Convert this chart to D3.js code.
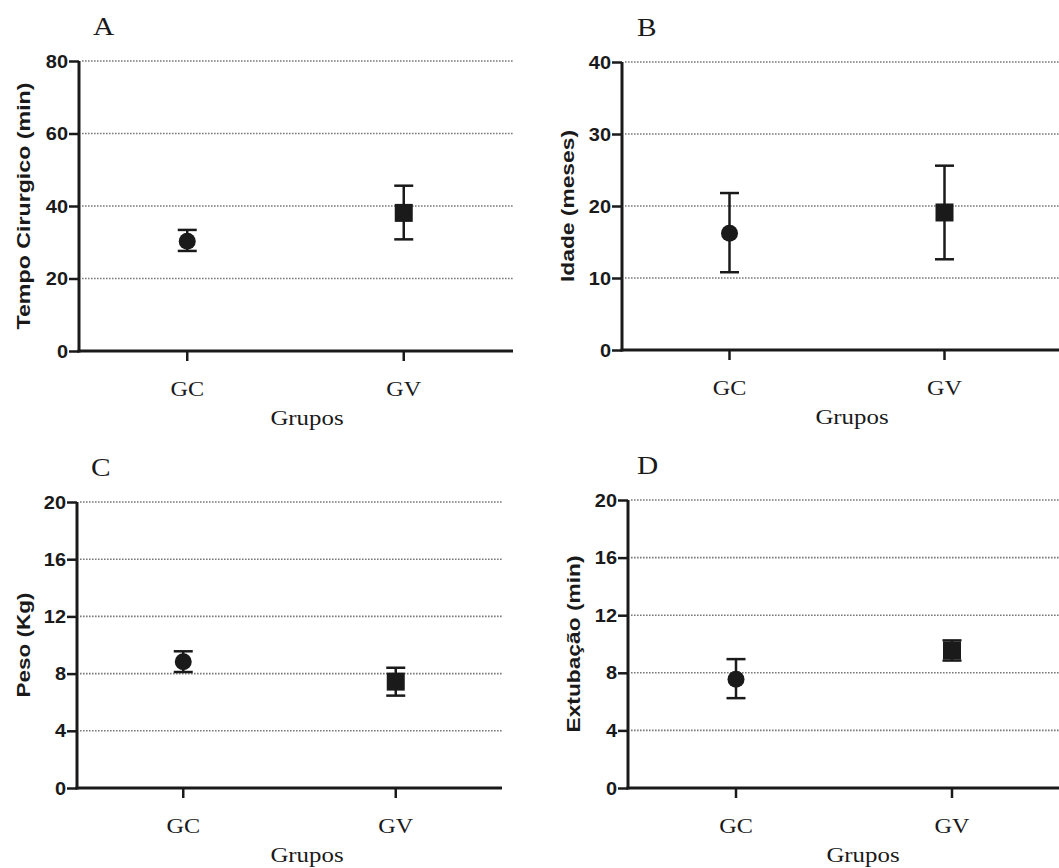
<!DOCTYPE html>
<html>
<head>
<meta charset="utf-8">
<script src="https://cdn.jsdelivr.net/npm/d3@7"></script>
<style>
  body { margin: 0; background: #fff; }
  .tick text { font-family: "Liberation Sans", Arial, sans-serif; font-weight: bold; }
</style>
</head>
<body>
<div id="chart"></div>
<script>
// Data (mean with lower / upper error bar ends)
const groups = ["GC", "GV"];

const tempoMean = [30.3, 38.1];
const tempoLow = [27.6, 30.8];
const tempoHigh = [33.4, 45.6];
const tempoTicks = [0, 20, 40, 60, 80];

const idadeMean = [16.2, 19.1];
const idadeLow = [10.8, 12.6];
const idadeHigh = [21.8, 25.6];
const idadeTicks = [0, 10, 20, 30, 40];

const pesoMean = [8.83, 7.44];
const pesoLow = [8.11, 6.46];
const pesoHigh = [9.56, 8.41];
const pesoTicks = [0, 4, 8, 12, 16, 20];

const extubMean = [7.56, 9.55];
const extubLow = [6.24, 8.85];
const extubHigh = [8.95, 10.25];
const extubTicks = [0, 4, 8, 12, 16, 20];

const width = 1059, height = 868;
const ink = "#1a1a1a";
const serif = "'Liberation Serif', 'Times New Roman', serif";

const svg = d3.select("#chart")
    .append("svg")
    .attr("width", width)
    .attr("height", height);

// the figure's text is a bit wider than the installed fonts, so stretch it
function widen(sel, k) {
    sel.each(function () {
        const w = this.getComputedTextLength();
        d3.select(this).attr("textLength", w * k).attr("lengthAdjust", "spacingAndGlyphs");
    });
}

// Draw one panel
function drawPanel(p) {
    const g = svg.append("g");

    const y = d3.scaleLinear()
        .domain([0, p.ticks[p.ticks.length - 1]])
        .range([p.bottom, p.top]);

    const x = d3.scalePoint()
        .domain(groups)
        .range([p.left, p.right])
        .padding(0.5);

    // dotted gridlines
    g.selectAll("line.grid")
        .data(p.ticks.filter(t => t > 0))
        .join("line")
        .attr("class", "grid")
        .attr("x1", p.left + 3)
        .attr("x2", p.lineEnd)
        .attr("y1", d => y(d))
        .attr("y2", d => y(d))
        .attr("stroke", "#7a7a7a")
        .attr("stroke-width", 1.6)
        .attr("stroke-dasharray", "1.6,1.4");

    // y axis
    const yAxis = g.append("g")
        .attr("transform", `translate(${p.left},0)`)
        .call(d3.axisLeft(y).tickValues(p.ticks).tickSize(10).tickPadding(1).tickFormat(d3.format("d")));
    yAxis.select(".domain").attr("stroke", ink).attr("stroke-width", 3)
        .attr("d", `M0,${p.bottom + 1.5}V${p.top}`);
    yAxis.selectAll(".tick line").attr("stroke", ink).attr("stroke-width", 2.5);
    yAxis.selectAll(".tick text").attr("font-size", 19).attr("fill", ink)
        .attr("text-anchor", "end").call(widen, 1.05);

    // x baseline and ticks
    g.append("line")
        .attr("x1", p.left - 1.5).attr("x2", p.lineEnd)
        .attr("y1", p.bottom).attr("y2", p.bottom)
        .attr("stroke", ink).attr("stroke-width", 3);

    g.selectAll("line.xtick")
        .data(groups)
        .join("line")
        .attr("class", "xtick")
        .attr("x1", d => x(d)).attr("x2", d => x(d))
        .attr("y1", p.bottom).attr("y2", p.bottom + 10)
        .attr("stroke", ink).attr("stroke-width", 2.5);

    g.selectAll("text.xlab")
        .data(groups)
        .join("text")
        .attr("class", "xlab")
        .attr("x", d => x(d))
        .attr("y", p.bottom + 45)
        .attr("text-anchor", "middle")
        .attr("font-family", serif)
        .attr("font-size", 22)
        .attr("fill", ink)
        .text(d => d)
        .call(widen, 1.1);

    g.append("text")
        .attr("x", p.grupoX)
        .attr("y", p.bottom + 74)
        .attr("text-anchor", "middle")
        .attr("font-family", serif)
        .attr("font-size", 22)
        .attr("fill", ink)
        .text("Grupos")
        .call(widen, 1.13);

    // y label
    g.append("text")
        .attr("transform", `translate(${p.labelX},${(p.top + p.bottom) / 2}) rotate(-90)`)
        .attr("text-anchor", "middle")
        .attr("dominant-baseline", "central")
        .attr("font-family", "'Liberation Sans', Arial, sans-serif")
        .attr("font-weight", "bold")
        .attr("font-size", 19)
        .attr("fill", ink)
        .attr("textLength", p.labelLen)
        .attr("lengthAdjust", "spacingAndGlyphs")
        .text(p.ylabel);

    // panel letter
    g.append("text")
        .attr("x", p.letterX)
        .attr("y", p.top - 26)
        .attr("font-family", serif)
        .attr("font-size", 26)
        .attr("fill", ink)
        .text(p.letter)
        .call(widen, 1.13);

    const rows = groups.map((gr, i) => ({ g: gr, m: p.mean[i], lo: p.low[i], hi: p.high[i] }));

    // error bars
    const eb = g.selectAll("g.err").data(rows).join("g").attr("class", "err");
    eb.append("line")
        .attr("x1", d => x(d.g)).attr("x2", d => x(d.g))
        .attr("y1", d => y(d.lo)).attr("y2", d => y(d.hi))
        .attr("stroke", ink).attr("stroke-width", 2.5);
    eb.selectAll("line.cap")
        .data(d => [{ g: d.g, v: d.lo }, { g: d.g, v: d.hi }])
        .join("line")
        .attr("class", "cap")
        .attr("x1", d => x(d.g) - 9.5).attr("x2", d => x(d.g) + 9.5)
        .attr("y1", d => y(d.v)).attr("y2", d => y(d.v))
        .attr("stroke", ink).attr("stroke-width", 2.5);

    // markers: circle for GC, square for GV
    g.append("circle")
        .attr("cx", x("GC"))
        .attr("cy", y(p.mean[0]))
        .attr("r", 8.5)
        .attr("fill", ink);
    g.append("rect")
        .attr("x", x("GV") - 9)
        .attr("y", y(p.mean[1]) - 9)
        .attr("width", 18)
        .attr("height", 18)
        .attr("fill", ink);
}

drawPanel({ letter: "A", ylabel: "Tempo Cirurgico (min)", ticks: tempoTicks,
    mean: tempoMean, low: tempoLow, high: tempoHigh,
    left: 79, right: 512, top: 61, bottom: 351, lineEnd: 513,
    labelX: 23, labelLen: 247, letterX: 93, grupoX: 307 });

drawPanel({ letter: "B", ylabel: "Idade (meses)", ticks: idadeTicks,
    mean: idadeMean, low: idadeLow, high: idadeHigh,
    left: 622, right: 1052, top: 62, bottom: 350, lineEnd: 1059,
    labelX: 567, labelLen: 152, letterX: 637, grupoX: 852 });

drawPanel({ letter: "C", ylabel: "Peso (Kg)", ticks: pesoTicks,
    mean: pesoMean, low: pesoLow, high: pesoHigh,
    left: 77, right: 502, top: 502, bottom: 788, lineEnd: 502,
    labelX: 23, labelLen: 105, letterX: 91, grupoX: 307 });

drawPanel({ letter: "D", ylabel: "Extubação (min)", ticks: extubTicks,
    mean: extubMean, low: extubLow, high: extubHigh,
    left: 628, right: 1060, top: 500, bottom: 788, lineEnd: 1059,
    labelX: 573, labelLen: 177, letterX: 637, grupoX: 863 });
</script>
</body>
</html>
